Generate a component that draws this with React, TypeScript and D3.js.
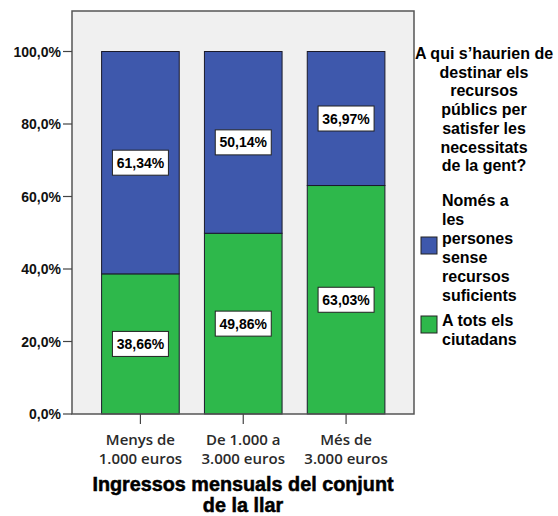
import React from "react";
import * as d3 from "d3";

const categories: string[][] = [
  ["Menys de", "1.000 euros"],
  ["De 1.000 a", "3.000 euros"],
  ["Més de", "3.000 euros"],
];
const allCitizens = [38.66, 49.86, 63.03];
const onlyNeedy = [61.34, 50.14, 36.97];
const yTicks = [0, 20, 40, 60, 80, 100];
const legendTitle = [
  "A qui s\u2019haurien de",
  "destinar els",
  "recursos",
  "públics per",
  "satisfer les",
  "necessitats",
  "de la gent?",
];
const seriesNames = [
  ["Només a", "les", "persones", "sense", "recursos", "suficients"],
  ["A tots els", "ciutadans"],
];
const axisTitle = ["Ingressos mensuals del conjunt", "de la llar"];

const BLUE = "#3E58AC";
const GREEN = "#2EB84B";

export default function App() {
  const W = 558, H = 516;
  const frame = { l: 72, t: 11, r: 414, b: 414 };
  const y = d3.scaleLinear().domain([0, 100]).range([414, 51.5]);
  const x = d3
    .scaleBand<number>()
    .domain(d3.range(categories.length))
    .range([89, 397.5])
    .paddingInner(0.245)
    .paddingOuter(0.1225);

  const rows = categories.map((_, i) => ({ i, all: allCitizens[i], needy: onlyNeedy[i] }));
  const stack = d3.stack<any>().keys(["all", "needy"]);
  const stacked = stack(rows);
  const colors = [GREEN, BLUE];
  const fmt = (v: number) => d3.format(".2f")(v).replace(".", ",") + "%";
  const tickFmt = (v: number) => d3.format(".1f")(v).replace(".", ",") + "%";

  return (
    <svg
      width={W}
      height={H}
      style={{ position: "absolute", left: 0, top: 0, background: "#fff" }}
      fontFamily="Arial, 'Liberation Sans', sans-serif"
    >
      <rect x={frame.l} y={frame.t} width={frame.r - frame.l} height={frame.b - frame.t} fill="#F0F0F0" />
      {stacked.map((s, si) =>
        s.map((d, i) => (
          <rect
            key={`${si}-${i}`}
            x={x(i)!}
            y={y(d[1])}
            width={x.bandwidth()}
            height={y(d[0]) - y(d[1])}
            fill={colors[si]}
            stroke="#1a1a2a"
            strokeWidth={1}
          />
        ))
      )}
      {stacked.map((s, si) =>
        s.map((d, i) => {
          const cx = x(i)! + x.bandwidth() / 2;
          const cy = (y(d[0]) + y(d[1])) / 2;
          const v = d[1] - d[0];
          return (
            <g key={`l-${si}-${i}`}>
              <rect x={cx - 28} y={cy - 12.5} width={56} height={25} fill="#fff" stroke="#222" strokeWidth={1} />
              <text x={cx} y={cy + 5} textAnchor="middle" fontSize={14} fontWeight="bold" fill="#000">
                {fmt(v)}
              </text>
            </g>
          );
        })
      )}
      <rect
        x={frame.l}
        y={frame.t}
        width={frame.r - frame.l}
        height={frame.b - frame.t}
        fill="none"
        stroke="#555"
        strokeWidth={1.5}
      />
      {yTicks.map((t) => (
        <g key={t}>
          <line x1={63} x2={frame.l} y1={y(t)} y2={y(t)} stroke="#444" strokeWidth={1.2} />
          <text x={61} y={y(t) + 5} textAnchor="end" fontSize={14} fontWeight="bold" fill="#111">
            {tickFmt(t)}
          </text>
        </g>
      ))}
      {categories.map((c, i) => {
        const cx = x(i)! + x.bandwidth() / 2;
        return (
          <g key={i}>
            <line x1={cx} x2={cx} y1={frame.b} y2={frame.b + 10} stroke="#444" strokeWidth={1.2} />
            {c.map((line, li) => (
              <text
                key={li}
                x={cx}
                y={445 + li * 18.5}
                textAnchor="middle"
                fontSize={15}
                fontWeight={600}
                fontFamily="'Open Sans', sans-serif"
                fill="#2a2a2a"
              >
                {line}
              </text>
            ))}
          </g>
        );
      })}
      {axisTitle.map((line, li) => (
        <text
          key={li}
          x={243}
          y={491 + li * 21}
          textAnchor="middle"
          fontSize={19.8}
          fontWeight="bold"
          fill="#000"
          stroke="#000"
          strokeWidth={0.5}
        >
          {line}
        </text>
      ))}
      {legendTitle.map((line, li) => (
        <text key={li} x={484} y={59 + li * 18.7} textAnchor="middle" fontSize={16} fontWeight="bold" fill="#000">
          {line}
        </text>
      ))}
      {seriesNames.map((lines, si) => {
        const y0 = si === 0 ? 206 : 326;
        const swY = si === 0 ? 237 : 316;
        return (
          <g key={si}>
            <rect x={421} y={swY} width={16} height={17} fill={si === 0 ? BLUE : GREEN} stroke="#222" strokeWidth={1} />
            {lines.map((line, li) => (
              <text key={li} x={442} y={y0 + li * 19} fontSize={16} fontWeight="bold" fill="#000">
                {line}
              </text>
            ))}
          </g>
        );
      })}
    </svg>
  );
}
